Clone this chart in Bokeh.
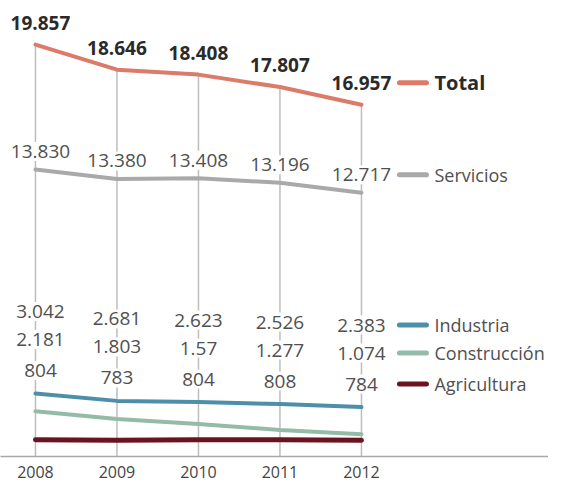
from bokeh.plotting import figure
from bokeh.models import FixedTicker, Range1d
from bokeh.core.properties import value
from bokeh.embed import file_html
from bokeh.resources import INLINE

# ---- data ----
years = [2008, 2009, 2010, 2011, 2012]
total = [19857, 18646, 18408, 17807, 16957]
servicios = [13830, 13380, 13408, 13196, 12717]
industria = [3042, 2681, 2623, 2526, 2383]
construccion = [2181, 1803, 1570, 1277, 1074]
agricultura = [804, 783, 804, 808, 784]

total_labels = ["19.857", "18.646", "18.408", "17.807", "16.957"]
servicios_labels = ["13.830", "13.380", "13.408", "13.196", "12.717"]
industria_labels = ["3.042", "2.681", "2.623", "2.526", "2.383"]
construccion_labels = ["2.181", "1.803", "1.57", "1.277", "1.074"]
agricultura_labels = ["804", "783", "804", "808", "784"]
series_names = ["Total", "Servicios", "Industria", "Construcción", "Agricultura"]
year_labels = ["2008", "2009", "2010", "2011", "2012"]

# ---- styles / layout ----
W, H = 548, 484
X0, X1 = 2007.571, 2014.295
Y0, Y1 = 0, 21980
BOTTOM = 28
FRAME_H = H - BOTTOM
PX_YR = W / (X1 - X0)
PPU = FRAME_H / (Y1 - Y0)
FONT = value("Open Sans")

C_TOTAL = "#dc7b6a"
C_SERV = "#a9a9a9"
C_IND = "#4d8eab"
C_CONS = "#94bba8"
C_AGRI = "#6b1420"
C_GRID = "#bdbdbd"
C_TXT = "#505050"
C_BOLD = "#2a2a2a"

first_shift = [5, 0, 0, 0, 0]
off_total, off_serv = -22, -18
off_ind, off_cons, off_agri = -82, -54, -23

p = figure(width=W, height=H, x_range=Range1d(X0, X1), y_range=Range1d(Y0, Y1),
           output_backend="svg", toolbar_location=None, y_axis_location=None,
           min_border=0, min_border_left=0, min_border_right=0,
           min_border_top=0, min_border_bottom=BOTTOM)
p.outline_line_color = None
p.grid.visible = False
p.background_fill_color = "white"

ax = p.xaxis[0]
ax.ticker = FixedTicker(ticks=years)
ax.major_label_overrides = {y: s for y, s in zip(years, year_labels)}
ax.major_tick_line_color = None
ax.minor_tick_line_color = None
ax.axis_line_color = "#a8a8a8"
ax.axis_line_width = 1.5
ax.major_label_text_font = "Open Sans"
ax.major_label_text_font_size = "16px"
ax.major_label_text_color = "#444444"
ax.major_label_standoff = 3

# vertical guide lines
p.segment(x0=years, y0=total, x1=years, y1=[Y0] * len(years),
          line_color=C_GRID, line_width=1.5)

# series lines
for ys, c, w in [(total, C_TOTAL, 4), (servicios, C_SERV, 4), (industria, C_IND, 4),
                 (construccion, C_CONS, 4), (agricultura, C_AGRI, 5)]:
    p.line(years, ys, line_color=c, line_width=w, line_cap="round", line_join="round")

# value labels
p.text(years, total, text=total_labels, x_offset=first_shift, y_offset=off_total,
       text_align="center", text_baseline="middle", text_font=FONT,
       text_font_size="19px", text_font_style="bold", text_color=C_BOLD)
for ys, labs, off in [(servicios, servicios_labels, off_serv),
                      (industria, industria_labels, off_ind),
                      (industria, construccion_labels, off_cons),
                      (industria, agricultura_labels, off_agri)]:
    p.text(years, ys, text=labs, x_offset=first_shift, y_offset=off,
           text_align="center", text_baseline="middle", text_font=FONT,
           text_font_size="19px", text_color=C_TXT,
           background_fill_color="white", padding=3)

# legend entries aligned with last labels
last = years[-1]
leg_y = [total[-1] - off_total / PPU, servicios[-1] - off_serv / PPU,
         industria[-1] - off_ind / PPU, industria[-1] - off_cons / PPU,
         industria[-1] - off_agri / PPU]
leg_colors = [C_TOTAL, C_SERV, C_IND, C_CONS, C_AGRI]
p.segment(x0=[last + 38 / PX_YR] * 5, y0=leg_y, x1=[last + 65 / PX_YR] * 5, y1=leg_y,
          line_color=leg_colors, line_width=5, line_cap="round")
p.text([last + 73 / PX_YR], leg_y[:1], text=series_names[:1],
       text_align="left", text_baseline="middle", text_font=FONT,
       text_font_size="20px", text_font_style="bold", text_color=C_BOLD)
p.text([last + 73 / PX_YR] * 4, leg_y[1:], text=series_names[1:],
       text_align="left", text_baseline="middle", text_font=FONT,
       text_font_size="18px", text_color=C_TXT)

open("out.html", "w").write(file_html(p, INLINE))
